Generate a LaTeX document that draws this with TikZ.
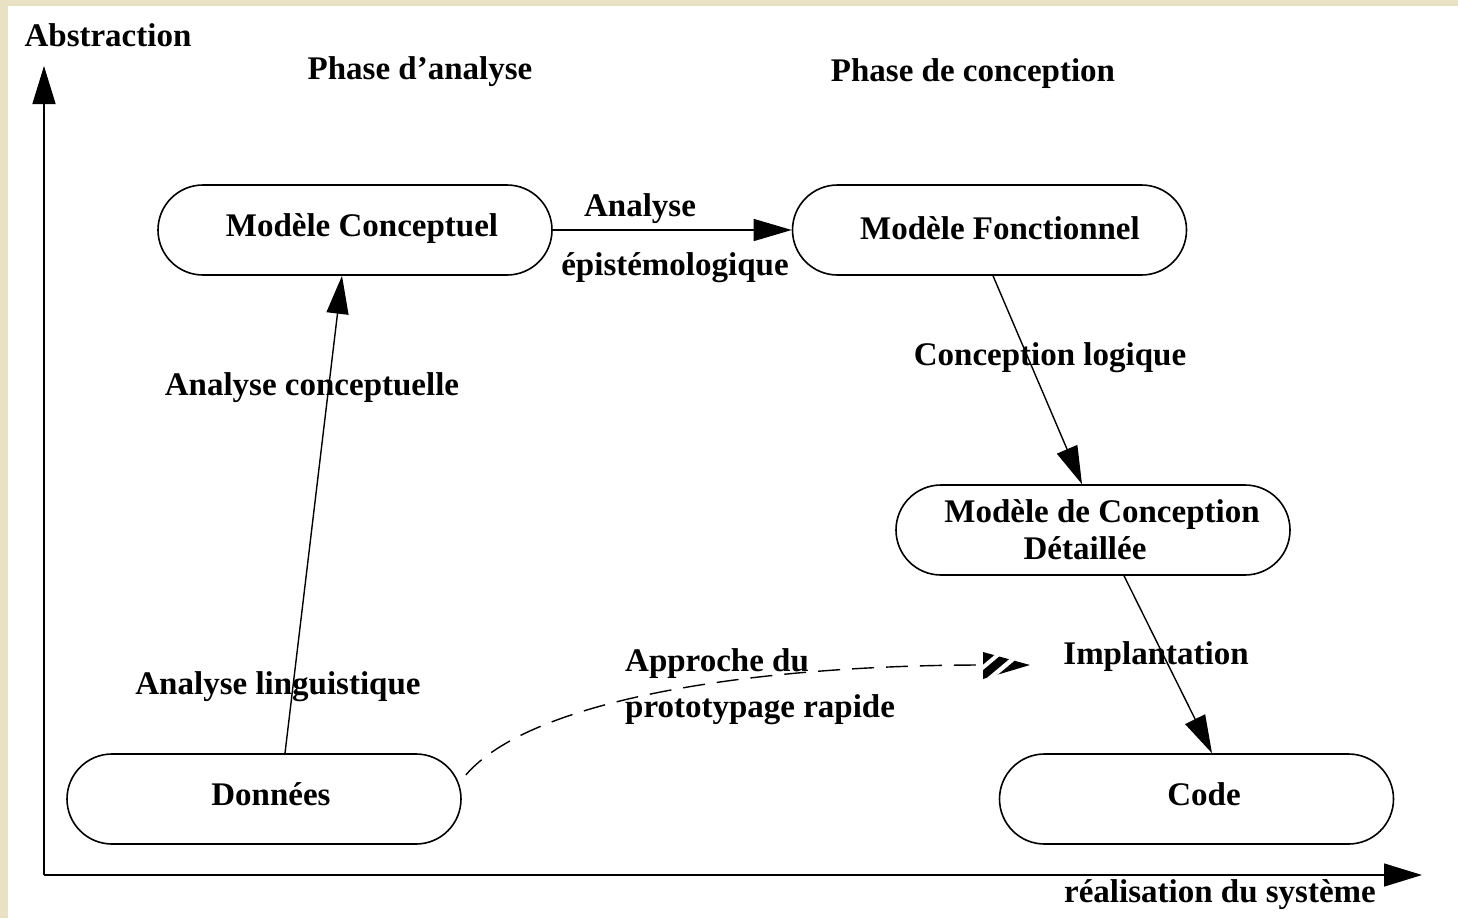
\documentclass[tikz,border=0pt]{standalone}
\usepackage{fontspec}
\setmainfont{Liberation Serif}
\usetikzlibrary{arrows.meta}
\definecolor{parch}{RGB}{232,225,196}
\newcommand{\tsh}[3]{\hspace*{#1}\raisebox{#2}[\height][\depth]{#3}}
\tikzset{
  lbl/.style={font=\fontsize{33}{37}\selectfont\bfseries, inner sep=0pt},
  stad/.style={draw, line width=1.6pt, rounded corners=45pt, minimum width=394pt, minimum height=90pt, inner sep=0pt,
     font=\fontsize{33}{37}\selectfont\bfseries, align=center},
  conn/.style={line width=1.4pt, -{Triangle[length=38pt,width=22pt]}},
  axis/.style={line width=1.5pt, -{Triangle[length=38pt,width=23pt]}}
}
\begin{document}
\begin{tikzpicture}[x=1pt,y=-1pt]
\fill[parch] (0,0) rectangle (1458,918);
\fill[white] (8,6) rectangle (1458,918);
\useasboundingbox (0,0) rectangle (1458,918);

% axes
\coordinate (o) at (44,875);
\coordinate (ytip) at (44,66);
\coordinate (xtip) at (1422,875);
\draw[axis] (o) -- (ytip);
\draw[axis] (o) -- (xtip);

% nodes
\node[stad] (mc) at (355,230) {\tsh{14pt}{1pt}{Modèle Conceptuel}};
\node[stad] (mf) at (989.5,230) {\tsh{21pt}{2pt}{Modèle Fonctionnel}};
\node[stad] (mcd) at (1093,530) {\hspace*{18pt}Modèle de Conception\\Détaillée\hspace*{16pt}};
\node[stad] (don) at (264,799) {\tsh{14pt}{5pt}{Données}};
\node[stad] (code) at (1196.5,799) {\tsh{15pt}{5pt}{Code}};

% connectors
\draw[conn] ([xshift=21pt]don.north) -- ([xshift=-13pt]mc.south);
\draw[conn] (mc.east) -- (mf.west);
\draw[conn] ([xshift=3.5pt]mf.south) -- ([xshift=-11pt]mcd.north);
\draw[conn] ([xshift=31pt]mcd.south) -- ([xshift=15.5pt]code.north);

% dashed curve with hatched head
\coordinate (pe) at (984,665);
\coordinate (ptip) at (1030,665);
\draw[line width=1.4pt, dash pattern=on 22pt off 12pt]
  ([xshift=4pt,yshift=24pt]don.east) .. controls (530,700) and (750,665) .. (pe);
\begin{scope}
  \clip ([shift={(-2pt,14pt)}]pe) -- ([shift={(-2pt,-15pt)}]pe) -- (ptip) -- cycle;
  \fill (ptip) -- ([shift={(-1pt,-14pt)}]pe) -- ([shift={(-1pt,13pt)}]pe) -- cycle;
  \draw[white, line width=4pt] ([shift={(-22pt,-20pt)}]pe) -- ([shift={(28pt,22pt)}]pe);
  \draw[white, line width=4.5pt] ([shift={(-2pt,-20pt)}]pe) -- ([shift={(48pt,22pt)}]pe);
\end{scope}

% labels
\node[lbl, anchor=base] (tabs) at (108,46) {Abstraction};
\node[lbl, anchor=base] (tpa) at (420,79) {Phase d’analyse};
\node[lbl, anchor=base] (tpc) at (973,81) {Phase de conception};
\node[lbl, anchor=base] (tan) at (640,216) {Analyse};
\node[lbl, anchor=base] (tep) at (675,275) {épistémologique};
\node[lbl, anchor=base] (tac) at (312,395) {Analyse conceptuelle};
\node[lbl, anchor=base] (tcl) at (1050,365) {Conception logique};
\node[lbl, anchor=base] (tal) at (278,694) {Analyse linguistique};
\node[lbl, anchor=base west] (tap) at (625,671) {Approche du};
\node[lbl, anchor=base west] (tpr) at (625,717) {prototypage rapide};
\node[lbl, anchor=base] (tim) at (1156,664) {Implantation};
\node[lbl, anchor=base] (tre) at (1220,902) {réalisation du système};
\end{tikzpicture}
\end{document}
